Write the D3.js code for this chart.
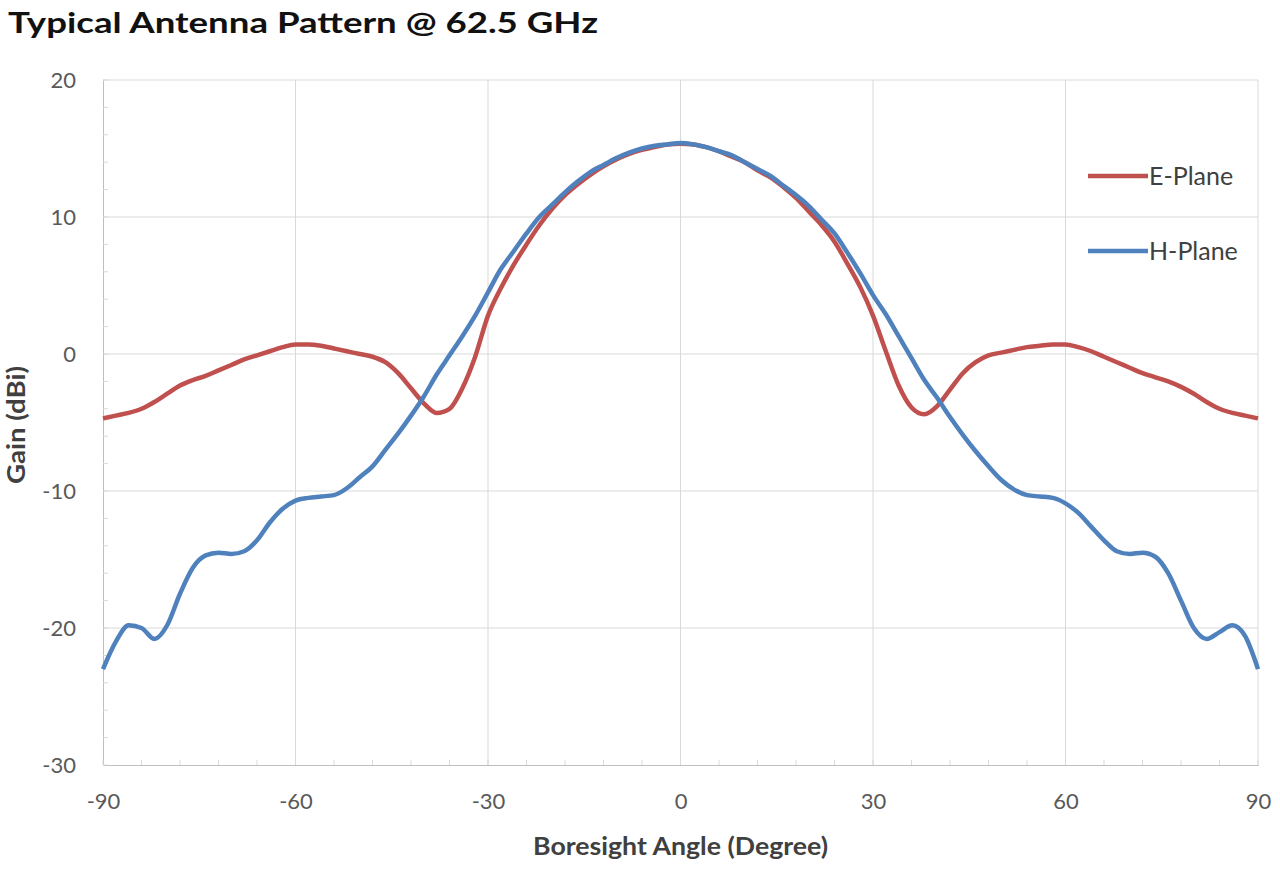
<!DOCTYPE html>
<html>
<head>
<meta charset="utf-8">
<script src="https://cdn.jsdelivr.net/npm/d3@7"></script>
<style>
  body { margin: 0; background: #fff; }
  svg { display: block; }
  .tick text { fill: #595959; font-family: Lato, sans-serif; font-size: 22px; }
</style>
</head>
<body>
<svg id="chart" width="1280" height="873"></svg>
<script>
// angle grid (degrees) shared by both planes
const angles = d3.range(-90, 91, 2);

const ePlane = [
  -4.7, -4.5, -4.3, -4.0, -3.5, -2.9, -2.3, -1.9, -1.6, -1.2,
  -0.8, -0.4, -0.1, 0.2, 0.5, 0.7, 0.7, 0.6, 0.4, 0.2,
  0.0, -0.2, -0.6, -1.4, -2.5, -3.6, -4.3, -4.0, -2.5, -0.2,
  2.8, 4.8, 6.5, 8.0, 9.4, 10.6, 11.6, 12.4, 13.1, 13.7,
  14.2, 14.6, 14.9, 15.1, 15.3, 15.35, 15.3, 15.1, 14.8, 14.4,
  14.0, 13.4, 12.9, 12.2, 11.4, 10.4, 9.4, 8.2, 6.6, 4.9,
  2.8, 0.2, -2.3, -3.9, -4.4, -3.8, -2.6, -1.4, -0.6, -0.1,
  0.1, 0.3, 0.5, 0.6, 0.7, 0.7, 0.5, 0.2, -0.2, -0.6,
  -1.0, -1.4, -1.7, -2.0, -2.4, -2.9, -3.5, -4.0, -4.3, -4.5,
  -4.7
];

const hPlane = [
  -23.0, -21.0, -19.8, -20.0, -20.8, -19.8, -17.5, -15.6, -14.7, -14.5,
  -14.6, -14.4, -13.6, -12.3, -11.3, -10.7, -10.5, -10.4, -10.3, -9.8,
  -9.0, -8.2, -7.0, -5.8, -4.5, -3.1, -1.5, -0.1, 1.3, 2.8,
  4.5, 6.2, 7.5, 8.8, 10.0, 10.9, 11.8, 12.6, 13.3, 13.8,
  14.3, 14.7, 15.0, 15.2, 15.3, 15.4, 15.3, 15.1, 14.8, 14.5,
  14.0, 13.5, 13.0, 12.3, 11.6, 10.8, 9.8, 8.8, 7.4, 5.9,
  4.3, 2.9, 1.3, -0.3, -1.9, -3.2, -4.6, -5.9, -7.1, -8.2,
  -9.2, -9.9, -10.3, -10.4, -10.5, -10.9, -11.6, -12.6, -13.6, -14.4,
  -14.6, -14.5, -14.8, -16.0, -18.0, -20.0, -20.8, -20.3, -19.8, -20.6,
  -23.0
];

const xTicks = [-90, -60, -30, 0, 30, 60, 90];
const yTicks = [-30, -20, -10, 0, 10, 20];

const series = [
  { name: "E-Plane", values: ePlane, color: "#C0504D" },
  { name: "H-Plane", values: hPlane, color: "#4F81BD" }
];

const svg = d3.select("#chart");
const margin = { top: 80, right: 22, bottom: 108, left: 103 };
const width = +svg.attr("width") - margin.left - margin.right;
const height = +svg.attr("height") - margin.top - margin.bottom;

const x = d3.scaleLinear().domain([-90, 90]).range([0, width]);
const y = d3.scaleLinear().domain([-30, 20]).range([height, 0]);

svg.append("text")
  .attr("x", 8)
  .attr("y", 33)
  .attr("font-family", "Lato, sans-serif")
  .attr("font-weight", "bold")
  .attr("font-size", 28)
  .attr("fill", "#111")
  .attr("textLength", 590)
  .attr("lengthAdjust", "spacingAndGlyphs")
  .text("Typical Antenna Pattern @ 62.5 GHz");

const g = svg.append("g")
  .attr("transform", `translate(${margin.left},${margin.top})`);

// gridlines
g.append("g")
  .selectAll("line")
  .data(yTicks.filter(d => d > -30))
  .enter().append("line")
  .attr("x1", 0).attr("x2", width)
  .attr("y1", d => y(d)).attr("y2", d => y(d))
  .attr("stroke", "#d9d9d9");

g.append("g")
  .selectAll("line")
  .data(xTicks.filter(d => d > -90))
  .enter().append("line")
  .attr("y1", 0).attr("y2", height)
  .attr("x1", d => x(d)).attr("x2", d => x(d))
  .attr("stroke", "#d9d9d9");

// axes
const xAxis = g.append("g")
  .attr("transform", `translate(0,${height})`)
  .call(d3.axisBottom(x).tickValues(xTicks).tickSize(0).tickPadding(28)
    .tickFormat(d => String(d)));
xAxis.select(".domain").attr("stroke", "#bfbfbf");

const yAxis = g.append("g")
  .call(d3.axisLeft(y).tickValues(yTicks).tickSize(0).tickPadding(27)
    .tickFormat(d => String(d)));
yAxis.select(".domain").attr("stroke", "#bfbfbf");

// minor ticks
g.append("g")
  .selectAll("line")
  .data(d3.range(-90, 91, 6))
  .enter().append("line")
  .attr("x1", d => x(d)).attr("x2", d => x(d))
  .attr("y1", height).attr("y2", height - 5)
  .attr("stroke", "#d9d9d9");

g.append("g")
  .selectAll("line")
  .data(d3.range(-30, 21, 2))
  .enter().append("line")
  .attr("x1", 0).attr("x2", 5)
  .attr("y1", d => y(d)).attr("y2", d => y(d))
  .attr("stroke", "#d9d9d9");

// curves
const line = d3.line()
  .x((d, i) => x(angles[i]))
  .y(d => y(d))
  .curve(d3.curveMonotoneX);

g.selectAll(".series")
  .data(series)
  .enter().append("path")
  .attr("class", "series")
  .attr("fill", "none")
  .attr("stroke", d => d.color)
  .attr("stroke-width", 4.5)
  .attr("stroke-linejoin", "round")
  .attr("d", d => line(d.values));

// legend
const legend = svg.append("g")
  .selectAll("g")
  .data(series)
  .enter().append("g")
  .attr("transform", (d, i) => `translate(1088,${176 + i * 75})`);

legend.append("line")
  .attr("x1", 0).attr("x2", 60)
  .attr("stroke", d => d.color)
  .attr("stroke-width", 4.5);

legend.append("text")
  .attr("x", 61)
  .attr("dy", "0.36em")
  .attr("font-family", "Lato, sans-serif")
  .attr("font-size", 25)
  .attr("fill", "#404040")
  .text(d => d.name);

// axis titles
svg.append("text")
  .attr("x", margin.left + x(0))
  .attr("y", 855)
  .attr("text-anchor", "middle")
  .attr("font-family", "Lato, sans-serif")
  .attr("font-weight", "bold")
  .attr("font-size", 25)
  .attr("fill", "#404040")
  .attr("textLength", 295)
  .attr("lengthAdjust", "spacingAndGlyphs")
  .text("Boresight Angle (Degree)");

svg.append("text")
  .attr("transform", "translate(25,425) rotate(-90)")
  .attr("text-anchor", "middle")
  .attr("font-family", "Lato, sans-serif")
  .attr("font-weight", "bold")
  .attr("font-size", 25)
  .attr("fill", "#404040")
  .attr("textLength", 118)
  .attr("lengthAdjust", "spacingAndGlyphs")
  .text("Gain (dBi)");
</script>
</body>
</html>
